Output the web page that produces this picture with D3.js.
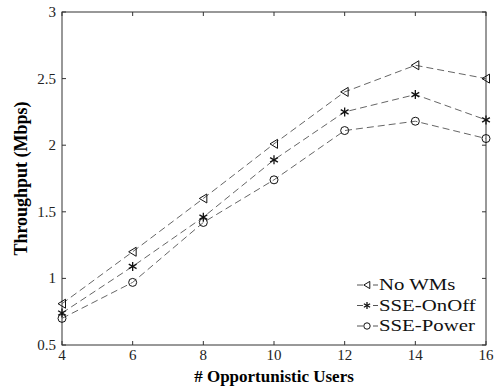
<!DOCTYPE html>
<html>
<head>
<meta charset="utf-8">
<script src="https://cdn.jsdelivr.net/npm/d3@7"></script>
<style>
  body { margin: 0; background: #fff; }
  svg { display: block; font-family: 'Liberation Serif', 'Times New Roman', serif; }
</style>
</head>
<body>
<div id="chart"></div>
<script>
// data
const users = [4, 6, 8, 10, 12, 14, 16];
const noWMs = [0.81, 1.20, 1.60, 2.01, 2.40, 2.60, 2.50];
const sseOnOff = [0.74, 1.09, 1.46, 1.89, 2.25, 2.38, 2.19];
const ssePower = [0.70, 0.97, 1.42, 1.74, 2.11, 2.18, 2.05];
const seriesNames = ['No WMs', 'SSE-OnOff', 'SSE-Power'];
const xTicks = [4, 6, 8, 10, 12, 14, 16];
const yTicks = [0.5, 1, 1.5, 2, 2.5, 3];

const width = 501, height = 392;
const margin = { top: 12, right: 15, bottom: 47, left: 62 };

const svg = d3.select('#chart').append('svg')
  .attr('width', width).attr('height', height);

const x = d3.scaleLinear().domain([4, 16]).range([margin.left, width - margin.right]);
const y = d3.scaleLinear().domain([0.5, 3]).range([height - margin.bottom, margin.top]);

// frame
svg.append('rect')
  .attr('x', x(4)).attr('y', y(3))
  .attr('width', x(16) - x(4)).attr('height', y(0.5) - y(3))
  .attr('fill', 'none').attr('stroke', '#333').attr('stroke-width', 1);

// ticks on all four sides, pointing in
const tickLen = 4;
const tg = svg.append('g').attr('stroke', '#333').attr('stroke-width', 1);
xTicks.forEach((t) => {
  tg.append('line').attr('x1', x(t)).attr('x2', x(t)).attr('y1', y(0.5)).attr('y2', y(0.5) - tickLen);
  tg.append('line').attr('x1', x(t)).attr('x2', x(t)).attr('y1', y(3)).attr('y2', y(3) + tickLen);
});
yTicks.forEach((t) => {
  tg.append('line').attr('x1', x(4)).attr('x2', x(4) + tickLen).attr('y1', y(t)).attr('y2', y(t));
  tg.append('line').attr('x1', x(16)).attr('x2', x(16) - tickLen).attr('y1', y(t)).attr('y2', y(t));
});

// tick labels
svg.append('g').selectAll('text').data(xTicks).enter().append('text')
  .attr('x', (d) => x(d)).attr('y', y(0.5) + 15)
  .attr('text-anchor', 'middle').style('font-size', '15px').attr('fill', '#222')
  .text((d) => d);
svg.append('g').selectAll('text').data(yTicks).enter().append('text')
  .attr('x', x(4) - 6).attr('y', (d) => y(d) + 5)
  .attr('text-anchor', 'end').style('font-size', '15px').attr('fill', '#222')
  .text((d) => d);

// axis titles
svg.append('text')
  .attr('x', (x(4) + x(16)) / 2).attr('y', 382)
  .attr('text-anchor', 'middle').style('font-size', '17px').style('font-weight', 'bold')
  .text('# Opportunistic Users');
svg.append('text')
  .attr('transform', `translate(27, ${(y(0.5) + y(3)) / 2}) rotate(-90)`)
  .attr('text-anchor', 'middle').style('font-size', '18px').style('font-weight', 'bold')
  .text('Throughput (Mbps)');

// markers
function drawMarker(g, kind, cx, cy, s) {
  if (kind === 0) {
    // left-pointing triangle
    g.append('path')
      .attr('d', `M${cx - 4 * s},${cy} L${cx + 3.5 * s},${cy - 4.5 * s} L${cx + 3.5 * s},${cy + 4.5 * s} Z`)
      .attr('fill', 'none').attr('stroke', '#111').attr('stroke-width', 1);
  } else if (kind === 1) {
    // asterisk
    const r = 4.5 * s;
    [0, 60, 120].forEach((a) => {
      const rad = (a * Math.PI) / 180;
      g.append('line')
        .attr('x1', cx - r * Math.sin(rad)).attr('y1', cy - r * Math.cos(rad))
        .attr('x2', cx + r * Math.sin(rad)).attr('y2', cy + r * Math.cos(rad))
        .attr('stroke', '#111').attr('stroke-width', 1.3);
    });
  } else {
    g.append('circle').attr('cx', cx).attr('cy', cy).attr('r', 4 * s)
      .attr('fill', 'none').attr('stroke', '#111').attr('stroke-width', 1);
  }
}

const seriesData = [noWMs, sseOnOff, ssePower];
const line = d3.line().x((d, i) => x(users[i])).y((d) => y(d));

seriesData.forEach((vals, k) => {
  svg.append('path')
    .attr('d', line(vals))
    .attr('fill', 'none').attr('stroke', '#666').attr('stroke-width', 1)
    .attr('stroke-dasharray', '7,4');
  const mg = svg.append('g');
  vals.forEach((v, i) => drawMarker(mg, k, x(users[i]), y(v), 1));
});

// legend
const legX = 357, legY = 285, legStep = 20.5;
seriesNames.forEach((name, k) => {
  const ly = legY + k * legStep;
  svg.append('line').attr('x1', legX).attr('x2', legX + 6).attr('y1', ly).attr('y2', ly)
    .attr('stroke', '#555').attr('stroke-width', 1);
  svg.append('line').attr('x1', legX + 16).attr('x2', legX + 21).attr('y1', ly).attr('y2', ly)
    .attr('stroke', '#555').attr('stroke-width', 1);
  const mg = svg.append('g');
  drawMarker(mg, k, legX + 10, ly, 0.8);
  svg.append('text')
    .attr('transform', `translate(${legX + 22}, ${ly + 5}) scale(1.3, 1)`)
    .style('font-size', '16px').attr('fill', '#111').text(name);
});
</script>
</body>
</html>
